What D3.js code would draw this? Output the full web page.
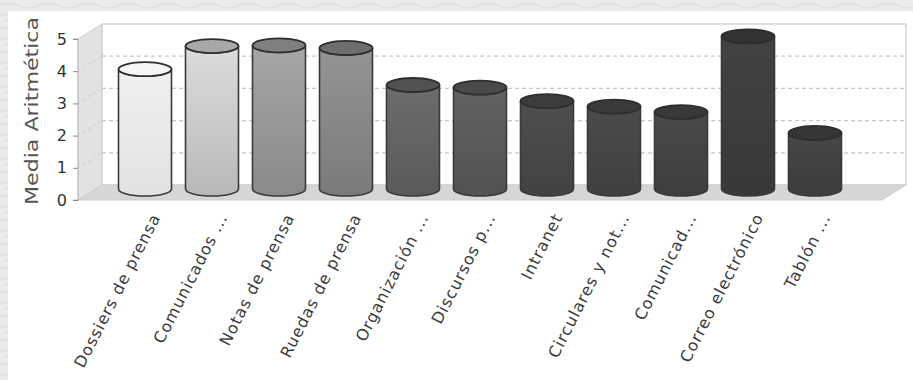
<!DOCTYPE html>
<html><head><meta charset="utf-8">
<script src="https://cdn.jsdelivr.net/npm/d3@7"></script>
<style>html,body{margin:0;padding:0;background:#fff;}svg{display:block;}</style>
</head><body>
<svg id="chart" width="913" height="380"></svg>
<script>
const categories = ["Dossiers de prensa","Comunicados ...","Notas de prensa","Ruedas de prensa","Organización ...","Discursos p...","Intranet","Circulares y not...","Comunicad...","Correo electrónico","Tablón ..."];
const values = [3.72, 4.44, 4.46, 4.38, 3.23, 3.15, 2.73, 2.56, 2.39, 4.74, 1.74];
const yTicks = [0,1,2,3,4,5];
const bodyTop = ["#f0f0f0","#dcdcdc","#a6a6a6","#949494","#6c6c6c","#626262","#4e4e4e","#4b4b4b","#494949","#424242","#474747"];
const bodyBot = ["#e2e2e2","#b8b8b8","#8a8a8a","#7a7a7a","#5a5a5a","#525252","#424242","#404040","#3e3e3e","#383838","#3c3c3c"];
const capFill = ["#f6f6f6","#a8a8a8","#808080","#6e6e6e","#525252","#4a4a4a","#3c3c3c","#3a3a3a","#383838","#333333","#363636"];
const yLabel = "Media Aritmética";

const svg = d3.select("#chart");
const W = 913, H = 380;
const defs = svg.append("defs");
// textured light background
const pat = defs.append("pattern").attr("id","tex").attr("width",40).attr("height",24).attr("patternUnits","userSpaceOnUse");
pat.append("rect").attr("width",40).attr("height",24).attr("fill","#ebebeb");
pat.append("path").attr("d","M0,5 q10,-3 20,1 t20,-1 M0,14 q8,3 18,-1 t22,2 M3,21 q12,-2 22,1 t15,0")
  .attr("fill","none").attr("stroke","#dedede").attr("stroke-width",1.2);
svg.append("rect").attr("width",W).attr("height",H).attr("fill","url(#tex)");
svg.append("rect").attr("x",8).attr("y",11).attr("width",W-8).attr("height",H-11).attr("fill","#ffffff");

const x0 = 78, x1 = 882, dx = 24, dy = -15;
const y = d3.scaleLinear().domain([0,5]).range([200,39]);
const x = d3.scaleBand().domain(categories).range([x0,x1]).paddingInner(0.209).paddingOuter(0.6045);

const g = svg.append("g");
g.append("rect").attr("x",x0+dx).attr("y",y(5)+dy).attr("width",x1-x0).attr("height",y(0)-y(5))
  .attr("fill","#ffffff").attr("stroke","#d6d6d6").attr("stroke-width",1.5);
g.append("path").attr("d",`M${x0},${y(5)}L${x0+dx},${y(5)+dy}L${x0+dx},${y(0)+dy}L${x0},${y(0)}Z`)
  .attr("fill","#e2e2e2").attr("stroke","#cfcfcf").attr("stroke-width",1);
g.append("path").attr("d",`M${x0},${y(0)}L${x0+dx},${y(0)+dy}L${x1+dx},${y(0)+dy}L${x1},${y(0)}Z`)
  .attr("fill","#d6d6d6").attr("stroke","#cfcfcf").attr("stroke-width",1);
yTicks.filter(t=>t>0 && t<5).forEach(t=>{
  g.append("line").attr("x1",x0+dx).attr("x2",x1+dx).attr("y1",y(t)+dy).attr("y2",y(t)+dy)
    .attr("stroke","#c8c8c8").attr("stroke-width",1.2).attr("stroke-dasharray","4,3");
  g.append("line").attr("x1",x0).attr("x2",x0+dx).attr("y1",y(t)).attr("y2",y(t)+dy)
    .attr("stroke","#d0d0d0").attr("stroke-width",1).attr("stroke-dasharray","3,3");
});

const axis = d3.axisLeft(y).tickValues(yTicks).tickSize(5).tickPadding(6).tickFormat(d3.format("d"));
const ag = svg.append("g").attr("transform",`translate(${x0},0)`).call(axis);
ag.select(".domain").attr("stroke","#bbbbbb").attr("d",`M-5,${y(5)}H0V${y(0)}H-5`);
ag.selectAll(".tick line").attr("stroke","#888888");
ag.selectAll(".tick text").attr("font-family","DejaVu Sans, sans-serif").attr("font-size",16).attr("fill","#333");

svg.append("text").attr("transform","translate(38,111) rotate(-90)").attr("text-anchor","middle")
  .attr("font-family","DejaVu Sans, sans-serif").attr("font-size",17).attr("fill","#555")
  .attr("textLength",188).attr("lengthAdjust","spacingAndGlyphs").text(yLabel);

const ry = 7, off = 11;
categories.forEach((c,i)=>{
  const gid = "grad"+i;
  const lg = defs.append("linearGradient").attr("id",gid).attr("x1",0).attr("y1",0).attr("x2",0).attr("y2",1);
  lg.append("stop").attr("offset","0%").attr("stop-color",bodyTop[i]);
  lg.append("stop").attr("offset","100%").attr("stop-color",bodyBot[i]);
  const left = x(c), w = x.bandwidth(), rx = w/2, right = left + w;
  const yt = y(values[i]) - off, yb = y(0) - off;
  g.append("path")
    .attr("d",`M${left},${yt}L${left},${yb}A${rx},${ry} 0 0 0 ${right},${yb}L${right},${yt}A${rx},${ry} 0 0 1 ${left},${yt}Z`)
    .attr("fill",`url(#${gid})`).attr("stroke","#3a3a3a").attr("stroke-width",1.6);
  g.append("ellipse").attr("cx",left+rx).attr("cy",yt).attr("rx",rx).attr("ry",ry)
    .attr("fill",capFill[i]).attr("stroke","#2e2e2e").attr("stroke-width",1.8);
});

categories.forEach((c,i)=>{
  const cx = x(c) + x.bandwidth()/2;
  svg.append("text").attr("transform",`translate(${cx+16},${217}) rotate(-63)`)
    .attr("text-anchor","end").attr("font-family","DejaVu Sans, sans-serif").attr("font-size",16)
    .attr("letter-spacing",1).attr("fill","#3a3a3a").text(c);
});
</script>
</body></html>
